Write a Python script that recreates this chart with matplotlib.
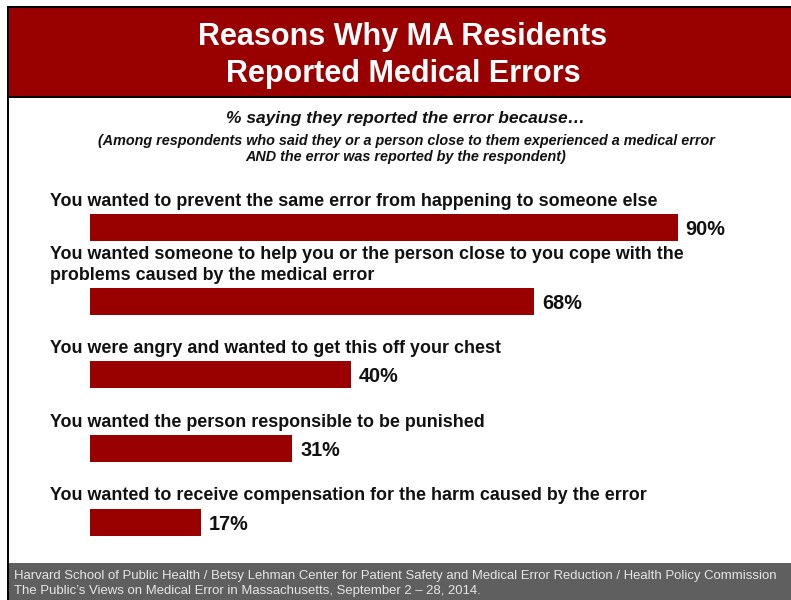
import matplotlib
matplotlib.use("Agg")
import matplotlib.pyplot as plt
from matplotlib.patches import Rectangle
from matplotlib.transforms import blended_transform_factory, offset_copy

categories = [
    "You wanted to prevent the same error from happening to someone else",
    "You wanted someone to help you or the person close to you cope with the\nproblems caused by the medical error",
    "You were angry and wanted to get this off your chest",
    "You wanted the person responsible to be punished",
    "You wanted to receive compensation for the harm caused by the error",
]
values = [90, 68, 40, 31, 17]
value_labels = ["90%", "68%", "40%", "31%", "17%"]

title = "Reasons Why MA Residents\nReported Medical Errors"
subtitle = "% saying they reported the error because\u2026"
subnote = ("(Among respondents who said they or a person close to them experienced a medical error\n"
           "AND the error was reported by the respondent)")
footer = ("Harvard School of Public Health / Betsy Lehman Center for Patient Safety and Medical Error Reduction / Health Policy Commission\n"
          "The Public\u2019s Views on Medical Error in Massachusetts, September 2 \u2013 28, 2014.")

RED = "#990000"
W, H = 791, 600
plt.rcParams['font.family'] = ['Liberation Sans', 'DejaVu Sans']

fig = plt.figure(figsize=(W / 100, H / 100), dpi=100)
fig.patch.set_facecolor("white")

def fx(px):
    return px / W

def fy(py):
    return 1 - py / H

# frame lines
fig.add_artist(Rectangle((fx(7), fy(600)), fx(2), (600 - 6) / H, transform=fig.transFigure,
                         facecolor="black", edgecolor="none"))
fig.add_artist(Rectangle((fx(7), fy(8)), 1, 2 / H, transform=fig.transFigure,
                         facecolor="black", edgecolor="none"))
# header
fig.add_artist(Rectangle((fx(9), fy(97)), 1, (97 - 8) / H, transform=fig.transFigure,
                         facecolor=RED, edgecolor="none"))
fig.add_artist(Rectangle((fx(9), fy(98)), 1, 2 / H, transform=fig.transFigure,
                         facecolor="black", edgecolor="none"))
fig.text(fx(403), fy(55.5), title, ha="center", va="center", color="white",
         fontsize=22, fontweight="bold", linespacing=1.33)

# subtitle
fig.text(fx(405), fy(118), subtitle, ha="center", va="center", color="#111111",
         fontsize=12.5, fontweight="bold", fontstyle="italic")
fig.text(fx(406), fy(149), subnote, ha="center", va="center", color="#111111",
         fontsize=10.4, fontweight="bold", fontstyle="italic", linespacing=1.2)

# footer
fig.add_artist(Rectangle((fx(9), 0), 1, (600 - 563) / H, transform=fig.transFigure,
                         facecolor="#5f5f5f", edgecolor="none"))
fig.text(fx(14), fy(583.5), footer, ha="left", va="center", color="#e6e6e6",
         fontsize=9.45, linespacing=1.4)

# bars axes
top_px, bot_px = 190, 560
c0, step = 227.5, 73.625
y_top = (top_px - c0) / step
y_bot = (bot_px - c0) / step
ax = fig.add_axes([fx(90), fy(bot_px), fx(653), (bot_px - top_px) / H])
ax.set_xlim(0, 100)
ax.set_ylim(y_bot, y_top)
ax.axis("off")
bh = 27 / step
ys = list(range(len(values)))
ax.barh(ys, values, height=bh, color=RED, edgecolor="none")

lab_tr = offset_copy(blended_transform_factory(fig.transFigure, ax.transData), fig=fig, y=4, units="dots")
for y, cat, v, vl in zip(ys, categories, values, value_labels):
    ax.text(fx(50), y - bh / 2, cat, transform=lab_tr, ha="left", va="bottom",
            fontsize=12.9, fontweight="bold", color="#111111", linespacing=1.25)
    ax.text(v, y, vl, transform=offset_copy(ax.transData, fig=fig, x=8, y=-2, units="dots"),
            ha="left", va="center", fontsize=14.3, fontweight="bold", color="#111111")

fig.savefig("out.png", dpi=100)
